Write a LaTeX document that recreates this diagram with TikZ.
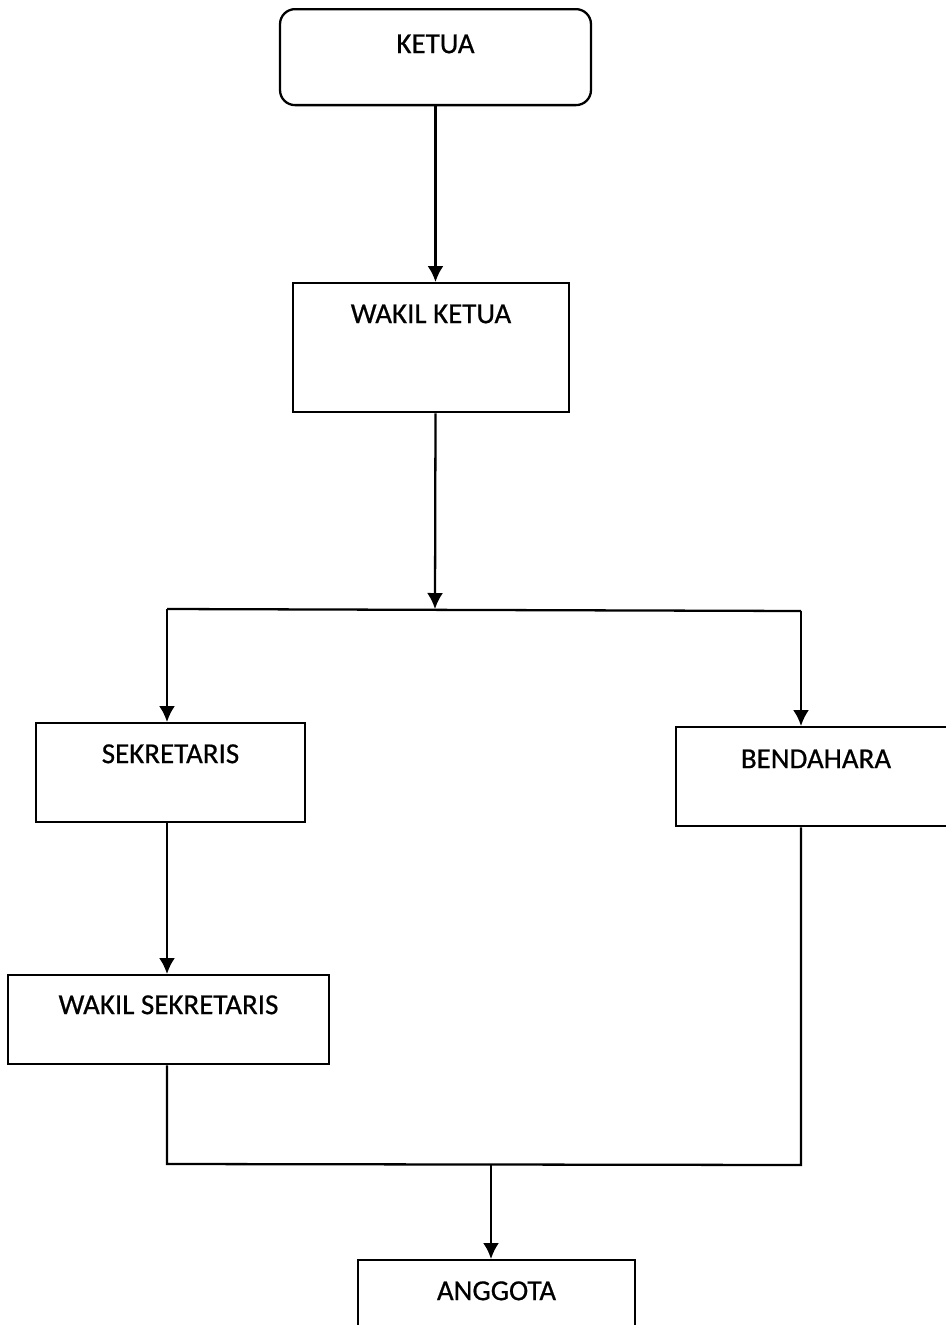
\documentclass[tikz,border=0pt]{standalone}
\usepackage{fontspec}
\setmainfont{Carlito}
\newfontfamily\tebal{Carlito}[FakeBold=0.6]
\usetikzlibrary{arrows.meta}

\tikzset{
	jabatan/.style={draw,inner sep=0pt,align=center,
		font=\tebal\fontsize{16.5}{20}\selectfont,text height=0.8cm},
}

\begin{document}
\begin{tikzpicture}[x=0.02cm,y=-0.02cm,>={Latex[length=0.32cm,width=0.32cm]},line width=1.3pt]
\useasboundingbox (0,0) rectangle (946,1325);

\node (ketua) at (435.5,8) [jabatan,anchor=north,rounded corners=0.3cm,
	minimum width=6.22cm,text height=0.88cm,text depth=1.04cm] {KETUA};
\node (wakil) at (431,282) [jabatan,anchor=north,
	minimum width=5.52cm,text depth=1.78cm] {WAKIL KETUA};
\node (sekretaris) at (170.5,722) [jabatan,anchor=north,
	minimum width=5.38cm,text depth=1.18cm] {SEKRETARIS};
\node (bendahara) at (816,726) [jabatan,anchor=north,
	minimum width=5.6cm,text height=0.82cm,text depth=1.16cm] {BENDAHARA};
\node (wasek) at (168.5,974) [jabatan,anchor=north,
	minimum width=6.42cm,text height=0.78cm,text depth=1.0cm] {WAKIL SEKRETARIS};
\node (anggota) at (496.5,1259) [jabatan,anchor=north,
	minimum width=5.54cm,text depth=1.2cm] {ANGGOTA};

\coordinate (cabang) at (435,609);
\coordinate (kiri) at (167,609);
\coordinate (kanan) at (801,611);
\coordinate (bawahkiri) at (167,1164);
\coordinate (bawahkanan) at (801,1165);
\coordinate (gabung) at (491,1164);

% ketua ke wakil, wakil ke cabang
\draw[->] (ketua.south) -- (ketua.south |- wakil.north);
\draw[->] (ketua.south |- wakil.south) -- (cabang);
\draw (kiri) -- (kanan);
\draw[->] (kiri) -- (kiri |- sekretaris.north);
\draw[->] (kanan) -- (kanan |- bendahara.north);
\draw[->] (kiri |- sekretaris.south) -- (kiri |- wasek.north);

% ke anggota
\draw (kiri |- wasek.south) -- (bawahkiri) -- (bawahkanan)
	-- (kanan |- bendahara.south);
\draw[->] (gabung) -- (gabung |- anggota.north);

\end{tikzpicture}
\end{document}
